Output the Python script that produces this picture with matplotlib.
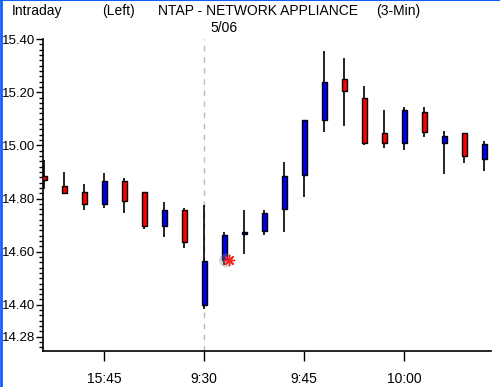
import numpy as np
import matplotlib
matplotlib.use("Agg")
import matplotlib.pyplot as plt
from matplotlib.ticker import FixedLocator, MultipleLocator

plt.rcParams['font.family'] = ['Liberation Sans', 'DejaVu Sans']

# 3-min candles, prev day close then 5/06 open
opens  = [14.885, 14.848, 14.825, 14.779, 14.865, 14.825, 14.695, 14.757,
          14.401, 14.567, 14.665, 14.677, 14.760, 14.888, 15.097, 15.251,
          15.180, 15.045, 15.008, 15.125, 15.008, 15.045, 14.948]
highs  = [14.945, 14.898, 14.855, 14.896, 14.878, 14.825, 14.788, 14.764,
          14.777, 14.674, 14.758, 14.758, 14.938, 15.094, 15.357, 15.327,
          15.222, 15.132, 15.144, 15.144, 15.054, 15.045, 15.016]
lows   = [14.835, 14.817, 14.755, 14.763, 14.744, 14.684, 14.654, 14.613,
          14.384, 14.549, 14.590, 14.662, 14.673, 14.804, 15.051, 15.074,
          15.002, 14.991, 14.984, 15.032, 14.894, 14.935, 14.905]
closes = [14.870, 14.819, 14.779, 14.865, 14.790, 14.695, 14.757, 14.637,
          14.563, 14.664, 14.675, 14.747, 14.885, 15.094, 15.240, 15.206,
          15.008, 15.008, 15.132, 15.049, 15.034, 14.959, 15.004]

xtick_idx = [3, 8, 13, 18]
xtick_labels = ['15:45', '9:30', '9:45', '10:00']
ytick_vals = [14.28, 14.40, 14.60, 14.80, 15.00, 15.20, 15.40]
ytick_labels = ['14.28', '14.40', '14.60', '14.80', '15.00', '15.20', '15.40']
day_break = 8
day_label = '5/06'
marker_idx = 9
marker_price = 14.567

fs = 10

fig = plt.figure(figsize=(5.0, 3.87), dpi=100)
ax = fig.add_axes([0.0866, 0.093, 0.8954, 0.806])

x = np.arange(len(opens))
o = np.array(opens); c = np.array(closes)
up = c >= o
colors = np.where(up, '#0000f0', '#ff0000')

ax.vlines(x, lows, highs, color='black', linewidth=1.2, zorder=2)
ax.bar(x, np.abs(c - o), bottom=np.minimum(o, c), width=0.25,
       color=colors, edgecolor='black', linewidth=1.0, zorder=3)

ax.axvline(day_break, color='#bbbbbb', linestyle=(0, (4, 4)), linewidth=1, zorder=1)

# last trade marker
ax.scatter([marker_idx + 0.1], [marker_price], s=100, color='#888888', alpha=0.35,
           edgecolors='none', zorder=4)
ax.scatter([marker_idx + 0.25], [marker_price], s=55, marker=(8, 2, 0),
           color='#ff2020', linewidths=1.0, zorder=5)

ax.set_xlim(-0.05, 22.35)
ax.set_ylim(14.226, 15.40)

ax.xaxis.set_major_locator(FixedLocator(xtick_idx))
ax.set_xticklabels(xtick_labels)
ax.yaxis.set_major_locator(FixedLocator(ytick_vals))
ax.set_yticklabels(ytick_labels)
ax.yaxis.set_minor_locator(MultipleLocator(0.02))

ax.tick_params(axis='x', length=7, width=1, pad=8, labelsize=fs)
ax.tick_params(axis='y', which='major', length=5, width=1, pad=1, labelsize=9.5)
ax.tick_params(axis='y', which='minor', length=3, width=1)

for s in ['top', 'right']:
    ax.spines[s].set_visible(False)
for s in ['left', 'bottom']:
    ax.spines[s].set_linewidth(1.2)

ty = 1 - 11 / 387
fig.text(12 / 500, ty, 'Intraday', fontsize=fs, va='center', ha='left')
fig.text(102 / 500, ty, '(Left)', fontsize=fs, va='center', ha='left')
fig.text(158 / 500, ty, 'NTAP - NETWORK APPLIANCE', fontsize=fs,
         va='center', ha='left')
fig.text(376 / 500, ty, '(3-Min)', fontsize=fs, va='center', ha='left')
fig.text(210 / 500, 1 - 28 / 387, day_label, fontsize=fs, va='center', ha='left')

# blue frame edges
fig.add_artist(plt.Line2D([0.001, 0.001], [0, 1], color='#1060ff', linewidth=2,
                          transform=fig.transFigure))
fig.add_artist(plt.Line2D([0, 1], [0.999, 0.999], color='#1060ff', linewidth=1.5,
                          transform=fig.transFigure))

fig.savefig('out.png', dpi=100)
